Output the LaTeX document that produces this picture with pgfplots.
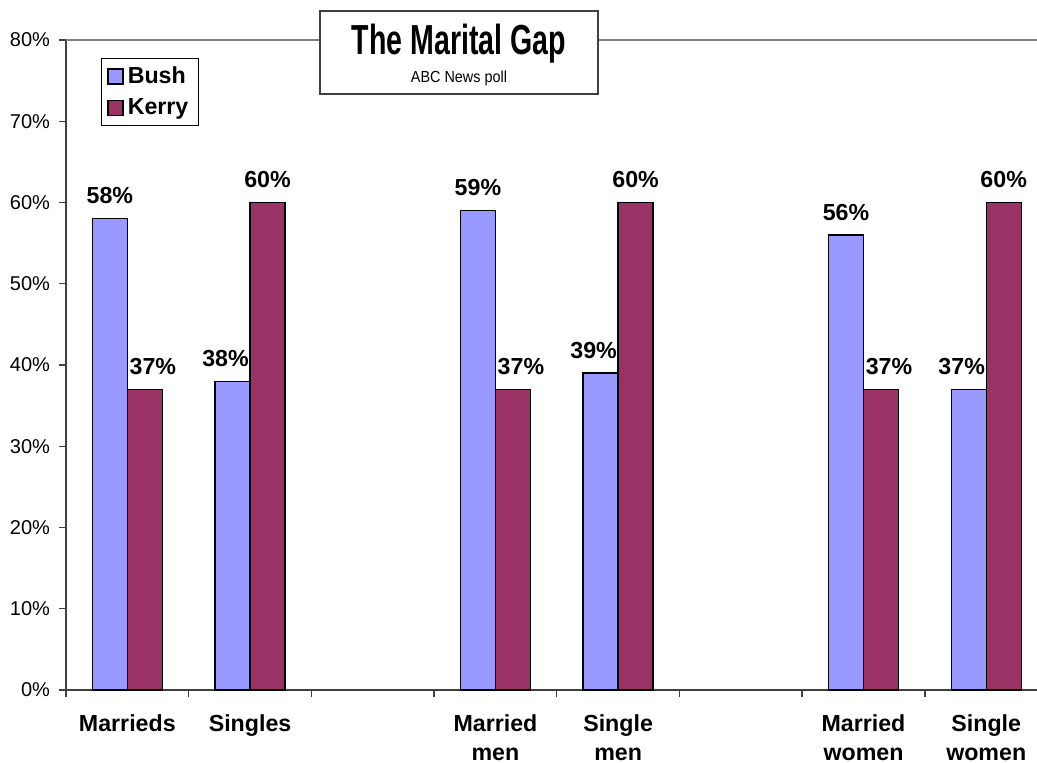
\documentclass[border=0pt]{standalone}
\usepackage{pgfplots}
\usepackage{pgfplotstable}
\pgfplotsset{compat=1.18}
\usepackage{fontspec}
\setmainfont{Liberation Sans}
\newfontfamily\titlefont[FakeStretch=0.68]{Liberation Sans}
\newfontfamily\subfont[FakeStretch=0.9]{Liberation Sans}
\definecolor{bush}{HTML}{9999FF}
\definecolor{kerry}{HTML}{993366}
\definecolor{axisgray}{HTML}{404040}
\newcommand\bigbold{\fontsize{11.6}{14.5}\selectfont\bfseries}

% x = slot centre (slots 2 and 5 are empty), dx = label nudge in pt
\pgfplotstableread{
x   y  dx
0.5 58 0
1.5 38 -3.5
3.5 59 0
4.5 39 -3.5
6.5 56 0
7.5 37 -3.5
}\bushdata
\pgfplotstableread{
x   y  dx
0.5 37 4
1.5 60 0
3.5 37 4
4.5 60 0
6.5 37 4
7.5 60 0
}\kerrydata

\begin{document}
\begin{tikzpicture}
\begin{axis}[
  name=ax,
  scale only axis,
  width=485.5pt, height=325pt,
  xmin=0, xmax=7.914, ymin=0, ymax=80,
  axis x line*=bottom, axis y line*=left,
  axis line style={axisgray, line width=0.7pt},
  ybar=0pt, bar width=17.5pt,
  xtick={0,...,7}, xticklabels={},
  extra x ticks={0.5,1.5,3.5,4.5,6.5,7.5},
  extra x tick labels={Marrieds,Singles,{Married\\men},{Single\\men},{Married\\women},{Single\\women}},
  extra x tick style={major tick length=0pt,
    tick label style={align=center, font=\bigbold, inner sep=0pt, yshift=-12pt}},
  ytick={0,10,...,80},
  yticklabel={\pgfmathprintnumber{\tick}\%},
  yticklabel style={font=\fontsize{10}{12}\selectfont, xshift=-1pt},
  /pgf/number format/assume math mode=true,
  tick align=outside, major tick length=3.5pt,
  tick style={axisgray, line width=0.7pt},
  legend style={at={(0.036,0.972)}, anchor=north west, draw=black,
    font=\bigbold, inner xsep=3pt, inner ysep=2pt, row sep=2pt},
  legend cell align=left,
  legend image code/.code={\draw[#1, draw=black] (0.5pt,-3.75pt) rectangle (8pt,3.75pt);},
  nodes near coords={\pgfmathprintnumber{\pgfplotspointmeta}\%},
  clip=false,
]
\addplot[fill=bush, draw=black, line width=0.7pt,
  visualization depends on={\thisrow{dx}\as\dx},
  nodes near coords style={font=\bigbold, inner sep=0pt, yshift=7pt, xshift=\dx pt}]
  table[x=x, y=y] {\bushdata};
\addlegendentry{Bush}
\addplot[fill=kerry, draw=black, line width=0.7pt,
  visualization depends on={\thisrow{dx}\as\dx},
  nodes near coords style={font=\bigbold, inner sep=0pt, yshift=7pt, xshift=\dx pt}]
  table[x=x, y=y] {\kerrydata};
\addlegendentry{Kerry}
\end{axis}
\coordinate (o) at (ax.south west);
\draw[gray, line width=0.7pt] (ax.north west) -- (ax.north east);
\draw[axisgray, line width=0.6pt, fill=white] ([shift={(127pt,298pt)}]o) rectangle ([shift={(266pt,339.5pt)}]o);
\node[anchor=base, inner sep=0pt] at ([shift={(196.5pt,317.5pt)}]o)
  {\titlefont\bfseries\fontsize{21}{24}\selectfont The Marital Gap};
\node[anchor=base, inner sep=0pt] at ([shift={(196.5pt,303.5pt)}]o)
  {\subfont\fontsize{8}{9}\selectfont ABC News poll};
\pgfresetboundingbox
\path[use as bounding box] ([shift={(-33pt,-36.5pt)}]o) rectangle ([shift={(485.5pt,345pt)}]o);
\end{tikzpicture}
\end{document}
